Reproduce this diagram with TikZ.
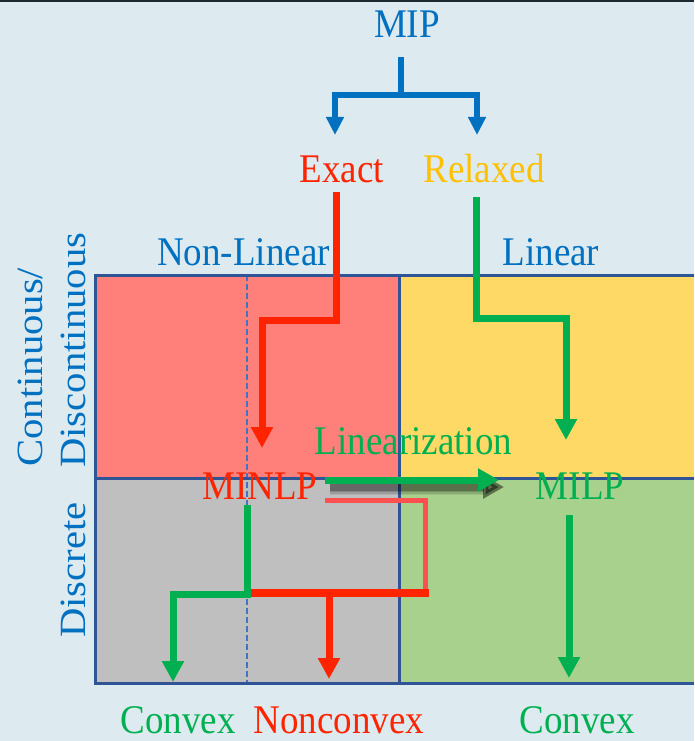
\documentclass[tikz,border=0pt]{standalone}
\usepackage{fontspec}
\setmainfont{Liberation Serif}
\usetikzlibrary{arrows.meta}
\definecolor{bg}{HTML}{DDEBF1}
\definecolor{topedge}{HTML}{1B2A30}
\definecolor{cblue}{HTML}{0070C0}
\definecolor{cred}{HTML}{FF2400}
\definecolor{clred}{HTML}{FF5050}
\definecolor{cyel}{HTML}{FFC000}
\definecolor{cgreen}{HTML}{00B050}
\definecolor{gridcol}{HTML}{2F5597}
\definecolor{dashcol}{HTML}{4472C4}
\definecolor{fred}{HTML}{FF7F7A}
\definecolor{fyel}{HTML}{FFD966}
\definecolor{fgray}{HTML}{BFBFBF}
\definecolor{fgreen}{HTML}{A9D18E}
% slightly tall lettering
\newcommand\tallText[1]{\scalebox{1}[1.1]{#1}}
\newcommand\longText[1]{\scalebox{1.1}[1]{#1}}
\begin{document}
\begin{tikzpicture}[x=1pt,y=-1pt,
  lbl/.style={inner sep=0pt, anchor=base, font=\fontsize{37}{40}\selectfont},
  vlbl/.style={inner sep=0pt, rotate=90, text=cblue, font=\fontsize{37}{40}\selectfont},
  gridline/.style={draw=gridcol, line width=3pt},
  splitline/.style={draw=dashcol, line width=1.8pt, dash pattern=on 6pt off 3pt},
  tree/.style={draw=cblue, line width=6pt, line join=miter},
  treetip/.style={-{Triangle[length=18pt,width=17pt]}},
  flow/.style={line width=7pt, line join=miter, -{Triangle[length=21pt,width=21pt]}},
  lintip/.style={-{Triangle[length=21pt,width=22pt]}}]
\useasboundingbox (0,0) rectangle (694,741);
\fill[bg] (0,0) rectangle (694,741);
\fill[topedge] (0,0) rectangle (694,2);

% four quadrants of the classification grid
\fill[fred] (95,275) rectangle (399,478);
\fill[fyel] (399,275) rectangle (694,478);
\fill[fgray] (95,478) rectangle (399,683);
\fill[fgreen] (399,478) rectangle (694,683);
\draw[splitline] (247,275) -- (247,683);
\draw[gridline] (694,275) -- (95,275) -- (95,683) -- (694,683);
\draw[gridline] (95,478) -- (694,478);
\draw[gridline] (399,275) -- (399,683);

% labels
\node[lbl, text=cblue] (mip) at (407,38) {\tallText{MIP}};
\node[lbl, text=cred] (exact) at (342,182) {\tallText{Exact}};
\node[lbl, text=cyel] (relaxed) at (484,182) {\tallText{Relaxed}};
\node[lbl, text=cblue] (nonlin) at (243.5,265) {\tallText{Non-Linear}};
\node[lbl, text=cblue] (lin) at (551,265) {\tallText{Linear}};
\node[lbl, text=cgreen] (linz) at (413.5,454) {\tallText{Linearization}};
\node[lbl, text=cred] (minlp) at (260,499) {\tallText{MINLP}};
\node[lbl, text=cgreen] (milp) at (580,499) {\tallText{MILP}};
\node[lbl, text=cgreen] (cvxa) at (178,733) {\tallText{Convex}};
\node[lbl, text=cred] (ncvx) at (339,733) {\tallText{Nonconvex}};
\node[lbl, text=cgreen] (cvxb) at (577,733) {\tallText{Convex}};
\node[vlbl, anchor=base west] (cont) at (42,467) {\longText{Continuous/}};
\node[vlbl, anchor=base west] (discont) at (85,468) {\longText{Discontinuous}};
\node[vlbl, anchor=base] (disc) at (85,570) {\longText{Discrete}};

% MIP splits into exact and relaxed
\coordinate (stem) at (401,57);
\coordinate (fork) at (401,95);
\coordinate (exacttip) at (335,135);
\coordinate (relaxtip) at (477,135);
\draw[tree] (stem) -- (fork);
\draw[tree, treetip] (fork) -| (exacttip);
\draw[tree, treetip] (fork) -| (relaxtip);

% exact -> MINLP
\coordinate (ex0) at (336,192);
\coordinate (ex1) at (336,320);
\coordinate (ex2) at (262,320);
\coordinate (ex3) at (262,448);
\draw[flow, cred] (ex0) -- (ex1) -- (ex2) -- (ex3);

% relaxed -> MILP
\coordinate (rx0) at (476,197);
\coordinate (rx1) at (476,318);
\coordinate (rx2) at (566,318);
\coordinate (rx3) at (566,440);
\draw[flow, cgreen] (rx0) -- (rx1) -- (rx2) -- (rx3);

% linearization arrow with soft shadow
\coordinate (lz0) at (325,480);
\coordinate (lz1) at (499,480);
\foreach \w/\o in {16/0.08, 13/0.11, 10/0.15, 7/0.22}{
  \draw[black, opacity=\o, line width=\w pt, lintip]
    ([shift={(5,7)}]lz0) -- ([shift={(5,7)}]lz1);
}
\draw[cgreen, line width=7pt, lintip] (lz0) -- (lz1);

% MINLP -> convex / nonconvex
\coordinate (mn0) at (325,500.5);
\coordinate (mn1) at (425.5,500.5);
\coordinate (mn2) at (425.5,593);
\coordinate (mnj) at (247,593);
\coordinate (ncx) at (329,593);
\coordinate (ncxtip) at (329,679);
\draw[clred, line width=5.5pt, line join=miter] (mn0) -- (mn1) -- (mn2);
\draw[cred, line width=8pt] ([xshift=3pt]mn2) -- (mnj);
\draw[flow, cred] (ncx) -- (ncxtip);

\coordinate (cv0) at (247,505);
\coordinate (cv1) at (247,594);
\coordinate (cv2) at (173,594);
\coordinate (cv3) at (173,682);
\draw[flow, cgreen] (cv0) -- (cv1) -- (cv2) -- (cv3);

% MILP -> convex
\coordinate (ml0) at (569,515);
\coordinate (ml1) at (569,678);
\draw[flow, cgreen] (ml0) -- (ml1);
\end{tikzpicture}
\end{document}
